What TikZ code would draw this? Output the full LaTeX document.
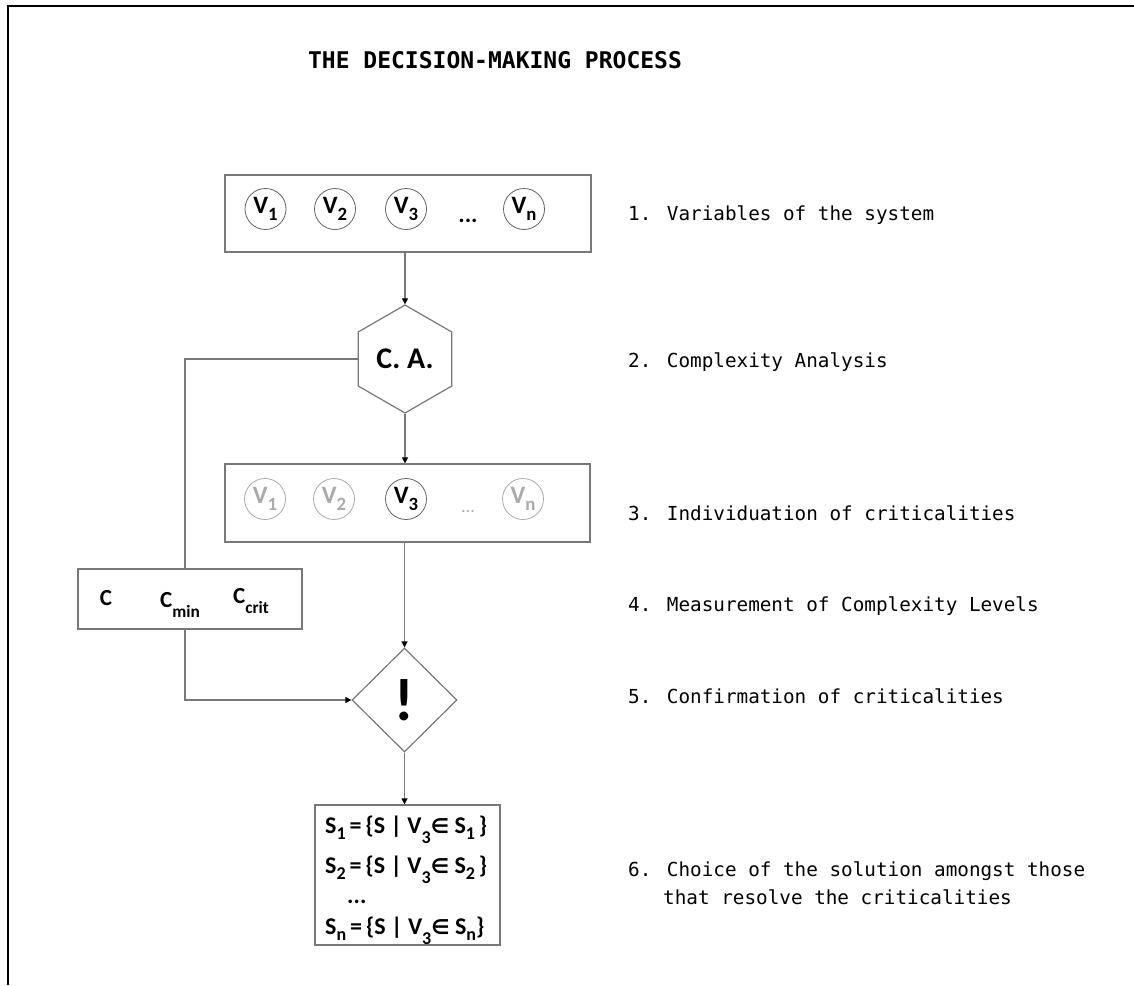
\documentclass[tikz,border=0pt]{standalone}
\usepackage{fontspec}
\setmainfont{Carlito}
\newfontfamily\monof{DejaVu Sans Mono}
\newfontfamily\dejav{DejaVu Sans}
\usetikzlibrary{shapes.geometric,arrows.meta,calc}
\definecolor{lgray}{RGB}{120,120,120}
\definecolor{cgray}{RGB}{100,100,100}
\definecolor{ltgray}{RGB}{170,170,170}
\newcommand\sbx[2][0.25em]{\raisebox{-#1}{\scalebox{0.75}{#2}}}
\newcommand\elem{{\dejav\bfseries\scalebox{0.85}{∈}}}
\begin{document}
\begin{tikzpicture}[x=1pt,y=-1pt,
  ln/.style={draw=lgray, line width=1.2pt},
  arr/.style={ln, -{Triangle[length=6pt,width=6pt,color=black]}},
  box/.style={draw=lgray, line width=1.2pt, inner sep=0pt},
  vc/.style={circle, draw=cgray, line width=0.8pt, minimum size=41pt, inner sep=0pt, font=\bfseries\fontsize{25}{26}\selectfont},
  vg/.style={vc, draw=ltgray, text=ltgray},
  hexa/.style={regular polygon, regular polygon sides=6, shape border rotate=30, minimum size=108pt, inner sep=0pt, draw=lgray, line width=1.2pt, font=\bfseries\fontsize{30}{30}\selectfont},
  dia/.style={diamond, aspect=1, minimum width=105pt, minimum height=104pt, inner sep=0pt, draw=lgray, line width=1.2pt},
  lab/.style={font=\monof\fontsize{19.3}{24}\selectfont, anchor=base west, inner sep=0pt},
  ctext/.style={font=\bfseries\fontsize{23}{24}\selectfont, inner sep=0pt},
  stext/.style={font=\bfseries\fontsize{24}{26}\selectfont, inner sep=0pt, anchor=base west}
]
\useasboundingbox (0,0) rectangle (1134,985);
\draw[line width=2pt] (8,985) -- (8,6) -- (1134,6);

\node[font=\monof\bfseries\fontsize{23}{28}\selectfont] (title) at (495,60) {THE DECISION-MAKING PROCESS};

% step 1
\node[box, minimum width=366pt, minimum height=77pt] (b1) at (408,213.5) {};
\node[vc] (v1) at (265.5,209) {V\sbx{1}};
\node[vc] (v2) at (335,209) {V\sbx{2}};
\node[vc] (v3) at (406,209) {V\sbx{3}};
\node[font=\bfseries\fontsize{24}{24}\selectfont, anchor=base, inner sep=0pt] (vd) at (468,222) {...};
\node[vc] (vn) at (524,209) {V\sbx{n}};

% step 2
\node[hexa] (ca) at (405,359) {C. A.};

% step 3
\node[box, minimum width=365pt, minimum height=78pt] (b3) at (407.5,503) {};
\node[vg] (w1) at (265,499) {V\sbx{1}};
\node[vg] (w2) at (334,499) {V\sbx{2}};
\node[vc] (w3) at (406,499) {V\sbx{3}};
\node[font=\fontsize{18}{20}\selectfont, text=ltgray, anchor=base, inner sep=0pt] (wd) at (468,512) {...};
\node[vg] (wn) at (523,499) {V\sbx{n}};

% step 4
\node[box, minimum width=224pt, minimum height=60pt] (cb) at (190,599) {};
\node[ctext, anchor=base] (c0) at (106,605) {C};
\node[ctext, anchor=base west] (c1) at (160,607) {C\sbx[0.45em]{min}};
\node[ctext, anchor=base west] (c2) at (233,603) {C\sbx[0.45em]{crit}};

% step 5
\node[dia] (dm) at (404.5,700) {};
\node[font=\bfseries\fontsize{60}{60}\selectfont, inner sep=0pt] (ex) at (dm.center) {!};

% step 6
\node[box, minimum width=185pt, minimum height=140pt] (sb) at (407.5,875) {};
\node[stext] (s1) at (325,833) {S\sbx{1}\,=\,\{S | V\sbx[0.45em]{3}\elem{} S\sbx{1}\,\}};
\node[stext] (s2) at (325,873) {S\sbx{2}\,=\,\{S | V\sbx[0.45em]{3}\elem{} S\sbx{2}\,\}};
\node[stext] (s3) at (347,903) {...};
\node[stext] (s4) at (325,934) {S\sbx{n}\,=\,\{S | V\sbx[0.45em]{3}\elem{} S\sbx{n}\}};

% connectors
\coordinate (lx) at (185,0);
\draw[arr] (b1.south -| ca.north) -- (ca.north);
\draw[ln] (ca.west) -| (lx |- cb.north);
\draw[arr] (ca.south) -- (ca.south |- b3.north);
\draw[arr] (b3.south -| dm.north) -- (dm.north);
\draw[arr] (lx |- cb.south) |- (dm.west);
\draw[arr] (dm.south) -- (dm.south |- sb.north);

% labels
\node[lab] (l1) at (628,220) {1. Variables of the system};
\node[lab] (l2) at (628,367) {2. Complexity Analysis};
\node[lab] (l3) at (628,520) {3. Individuation of criticalities};
\node[lab] (l4) at (628,611) {4. Measurement of Complexity Levels};
\node[lab] (l5) at (628,703) {5. Confirmation of criticalities};
\node[lab] (l6) at (628,876) {6. Choice of the solution amongst those};
\node[lab] (l6b) at (663,904) {that resolve the criticalities};
\end{tikzpicture}
\end{document}
